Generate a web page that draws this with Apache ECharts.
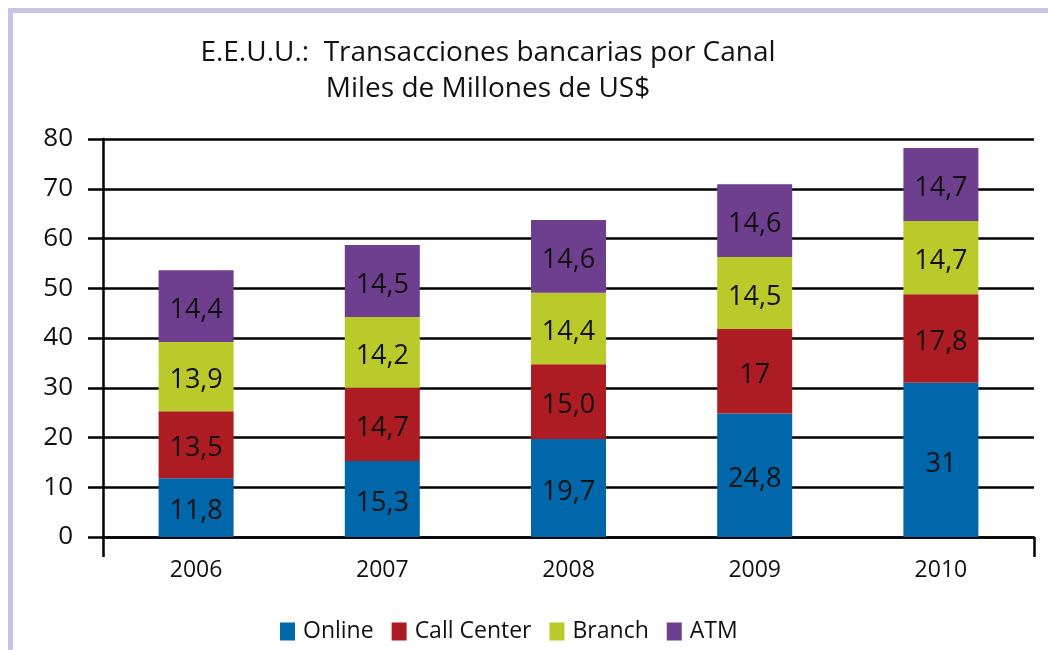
<!DOCTYPE html>
<html>
<head>
<meta charset="utf-8">
<script src="https://cdn.jsdelivr.net/npm/echarts@6/dist/echarts.min.js"></script>
<style>
  html, body { margin: 0; padding: 0; background: #ffffff; }
  #chart { width: 1048px; height: 650px; }
</style>
</head>
<body>
<div id="chart"></div>
<script>
// ---- data ----
const years = ['2006', '2007', '2008', '2009', '2010'];
const seriesNames = ['Online', 'Call Center', 'Branch', 'ATM'];
const online     = [11.8, 15.3, 19.7, 24.8, 31];
const callCenter = [13.5, 14.7, 15.0, 17, 17.8];
const branch     = [13.9, 14.2, 14.4, 14.5, 14.7];
const atm        = [14.4, 14.5, 14.6, 14.6, 14.7];
// label text exactly as printed on the bars
const onlineText     = ['11,8', '15,3', '19,7', '24,8', '31'];
const callCenterText = ['13,5', '14,7', '15,0', '17', '17,8'];
const branchText     = ['13,9', '14,2', '14,4', '14,5', '14,7'];
const atmText        = ['14,4', '14,5', '14,6', '14,6', '14,7'];
const yTicks = [0, 10, 20, 30, 40, 50, 60, 70, 80];
const titleLines = ['E.E.U.U.:  Transacciones bancarias por Canal', 'Miles de Millones de US$'];

const colors = ['#0067AB', '#AD1C22', '#BBCA2B', '#6E3F8E'];
const FONT = '"Open Sans", "DejaVu Sans", sans-serif';

const chart = echarts.init(document.getElementById('chart'), null, { renderer: 'canvas' });

function mkSeries(name, values, texts, color) {
  return {
    name: name,
    type: 'bar',
    stack: 'total',
    barWidth: 75,
    itemStyle: { color: color },
    label: {
      show: true,
      position: 'inside',
      offset: [0, 4],
      color: '#111',
      fontFamily: FONT,
      fontSize: 27,
      formatter: p => texts[p.dataIndex]
    },
    emphasis: { disabled: true },
    data: values
  };
}

const option = {
  animation: false,
  textStyle: { fontFamily: FONT },
  title: {
    text: titleLines.join('\n'),
    left: 483,
    top: 30,
    textAlign: 'center',
    textStyle: {
      fontFamily: FONT,
      fontWeight: 'normal',
      fontSize: 28,
      lineHeight: 36,
      color: '#111',
      align: 'center'
    }
  },
  graphic: [
    { type: 'rect', shape: { x: 8, y: 8, width: 5, height: 642 }, style: { fill: '#C9C4E2' }, silent: true },
    { type: 'rect', shape: { x: 8, y: 8, width: 1040, height: 5 }, style: { fill: '#C9C4E2' }, silent: true }
  ],
  legend: {
    data: seriesNames,
    left: 275,
    top: 615,
    itemWidth: 15,
    itemHeight: 18,
    itemGap: 18,
    icon: 'rect',
    selectedMode: false,
    textStyle: { fontFamily: FONT, fontSize: 23, color: '#111', padding: [0, 0, 0, 3] }
  },
  grid: {
    left: 103,
    right: 14,
    top: 139,
    bottom: 113,
    containLabel: false
  },
  xAxis: {
    type: 'category',
    data: years,
    boundaryGap: true,
    axisLine: { show: true, lineStyle: { color: '#000', width: 2.5 } },
    axisTick: {
      show: true,
      inside: false,
      length: 20,
      interval: (idx) => idx === 0,
      lineStyle: { color: '#000', width: 2.5 }
    },
    axisLabel: { fontFamily: FONT, fontSize: 23, color: '#111', margin: 22 }
  },
  yAxis: {
    type: 'value',
    min: 0,
    max: 80,
    interval: 10,
    axisLine: { show: true, lineStyle: { color: '#000', width: 2.5 } },
    axisTick: { show: true, length: 15, lineStyle: { color: '#000', width: 2.5 } },
    splitLine: { show: true, lineStyle: { color: '#000', width: 2.5 } },
    axisLabel: {
      fontFamily: FONT,
      fontSize: 26,
      color: '#111',
      margin: 30,
      formatter: v => (yTicks.indexOf(v) >= 0 ? String(v) : '')
    }
  },
  series: [
    mkSeries(seriesNames[0], online, onlineText, colors[0]),
    mkSeries(seriesNames[1], callCenter, callCenterText, colors[1]),
    mkSeries(seriesNames[2], branch, branchText, colors[2]),
    mkSeries(seriesNames[3], atm, atmText, colors[3])
  ]
};

chart.setOption(option);
</script>
</body>
</html>
